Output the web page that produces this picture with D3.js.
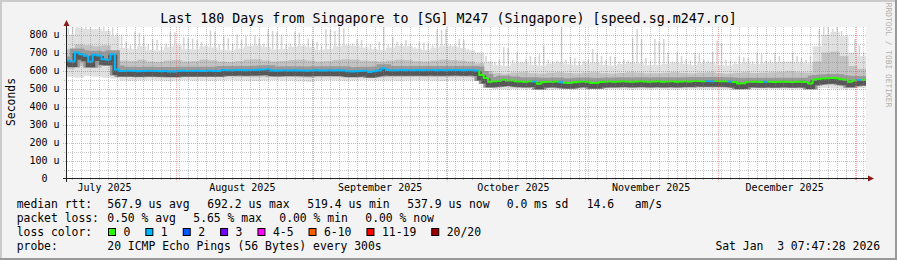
<!DOCTYPE html>
<html>
<head>
<meta charset="utf-8">
<script src="https://cdn.jsdelivr.net/npm/d3@7"></script>
<style>
  html, body { margin: 0; padding: 0; background: #f3f3f3; }
  svg { display: block; font-family: "DejaVu Sans Mono", monospace; }
  text { white-space: pre; }
</style>
</head>
<body>
<svg id="chart" width="897" height="260"></svg>
<script>
// graph window (180 days ending at the timestamp in the legend)
const startTime = new Date(Date.UTC(2025, 6, 7, 7, 47, 28));
const endTime = new Date(Date.UTC(2026, 0, 3, 7, 47, 28));
const DAY = 86400000;

const titleText = 'Last 180 Days from Singapore to [SG] M247 (Singapore) [speed.sg.m247.ro]';
const unitText = 'Seconds';
const watermarkText = 'RRDTOOL / TOBI OETIKER';
const monthLabels = ['July 2025', 'August 2025', 'September 2025', 'October 2025', 'November 2025', 'December 2025'];
const yTicks = [0, 100, 200, 300, 400, 500, 600, 700, 800];        // us
const yMinorTicks = [50, 150, 250, 350, 450, 550, 650, 750, 850];

// median rtt per day (us), day 0 = first day of the window
const medianRtt = [
  655, 650, 700, 690, 682, 648, 688, 684, 662, 660, 690, 605,
  597, 597, 598, 597, 596, 597, 598, 597, 597, 596, 597, 594,
  595, 597, 598, 597, 597, 598, 597, 597, 598, 597, 597, 603,
  602, 602, 603, 603, 602, 603, 603, 604, 606, 607, 600, 599,
  600, 601, 600, 601, 600, 600, 599, 600, 601, 600, 600, 601,
  600, 601, 600, 596, 595, 596, 597, 598, 591, 596, 600, 612,
  603, 602, 601, 603, 602, 603, 602, 603, 602, 603, 603, 602,
  603, 602, 603, 603, 603, 602, 603, 603, 600, 575,
  558, 537, 540, 541, 548, 545, 545, 540, 539, 538, 540, 539,
  527, 536, 538, 538, 539, 535, 532, 530, 535, 538, 539, 537,
  531, 530, 536, 538, 539, 538, 539, 540, 539, 538, 539, 540,
  539, 538, 539, 540, 538, 539, 540, 538, 539, 540, 539, 541,
  541, 540, 541, 540, 541, 540, 540, 539, 536, 528, 529, 537,
  537, 538, 536, 537, 538, 536, 537, 538, 537, 536, 537, 538,
  536, 528, 549, 553, 556, 557, 558, 557, 551, 549, 537, 545, 547, 547
];

// lost pings (of 20) per day
const lossPerDay = [
  1, 1, 1, 1, 1, 1, 1, 1, 1, 1, 1, 1, 1, 1, 1, 1, 1, 1, 1, 1,
  1, 1, 1, 1, 1, 1, 1, 1, 1, 1, 1, 1, 1, 1, 1, 1, 1, 1, 1, 1,
  1, 1, 1, 1, 1, 1, 1, 1, 1, 1, 1, 1, 1, 1, 1, 1, 1, 1, 1, 1,
  1, 1, 1, 1, 1, 1, 1, 1, 1, 1, 1, 1, 1, 1, 1, 1, 1, 1, 1, 1,
  1, 1, 1, 1, 1, 1, 1, 1, 1, 1, 1, 1, 1, 0, 0, 0, 0, 0, 0, 0,
  0, 0, 0, 0, 0, 1, 0, 0, 0, 0, 0, 1, 0, 0, 0, 0, 0, 0, 0, 0,
  0, 0, 0, 0, 0, 0, 0, 0, 0, 0, 0, 0, 0, 0, 0, 0, 0, 0, 0, 0,
  0, 0, 0, 0, 1, 1, 0, 0, 0, 1, 0, 0, 0, 0, 0, 0, 0, 1, 0, 0,
  0, 0, 0, 0, 0, 0, 0, 0, 0, 0, 0, 0, 0, 0, 0, 0, 0, 0, 1, 0
];

// highest single ping per day (us), the thin smoke spikes
const peakRtt = [
  835, 845, 850, 840, 850, 845, 830, 850, 845, 825, 840, 805,
  800, 760, 740, 815, 810, 790, 745, 775, 770, 735, 750, 815,
  812, 740, 786, 780, 775, 770, 760, 740, 822, 815, 745, 790,
  780, 750, 800, 770, 790, 740, 795, 780, 750, 830, 820, 815,
  800, 745, 750, 815, 810, 740, 775, 770, 760, 735, 830, 825,
  820, 843, 835, 740, 750, 775, 770, 735, 745, 730, 760, 850,
  740, 786, 760, 750, 770, 747, 730, 758, 755, 750, 740, 830,
  825, 830, 745, 740, 775, 770, 720, 710, 700, 690,
  680, 640, 650, 660, 730, 725, 660, 702, 650, 665, 681, 675,
  690, 737, 660, 650, 655, 843, 660, 675, 670, 650, 655, 660,
  720, 700, 681, 660, 680, 675, 650, 660, 655, 780, 830, 775,
  670, 655, 775, 760, 775, 700, 650, 702, 680, 663, 655, 700,
  690, 660, 655, 702, 766, 750, 660, 655, 650, 680, 675, 670,
  650, 700, 690, 655, 660, 700, 680, 655, 650, 700, 680, 670,
  660, 680, 700, 830, 848, 840, 830, 845, 820, 790, 700, 775, 740, 700
];

// smoke envelope per 2-day bucket (us)
const smokeMin = [
  565, 560, 570, 565, 560, 555,
  545, 543, 545, 548, 545, 542, 545, 546, 544, 545,
  543, 545, 548, 545, 544, 542, 545, 547, 545, 544,
  540, 538, 545, 546, 545, 543, 545, 548, 545, 544,
  545, 543, 545, 546, 545, 544, 542, 545, 546, 545,
  545,
  505, 497, 495, 497, 498, 496, 497, 495, 497, 498,
  496, 494, 497, 496, 498, 497, 495, 496, 497, 498,
  496, 495, 497, 498, 496, 497, 495, 496, 497, 498,
  496, 495, 497, 496, 498, 497, 500, 502, 503, 500,
  498, 500, 502
];
const smokeLow = [
  610, 625, 630, 615, 625, 590,
  566, 565, 567, 566, 565, 564, 566, 567, 565, 566,
  565, 566, 568, 566, 565, 563, 566, 568, 566, 565,
  562, 560, 566, 567, 566, 565, 566, 568, 566, 565,
  566, 565, 566, 567, 566, 565, 564, 566, 567, 566,
  560,
  525, 514, 513, 515, 516, 514, 515, 513, 515, 516,
  514, 512, 515, 514, 516, 515, 513, 514, 515, 516,
  514, 513, 515, 516, 514, 515, 513, 514, 515, 516,
  514, 513, 515, 514, 516, 515, 520, 525, 526, 522,
  516, 518, 520
];
const smokeHigh = [
  720, 745, 740, 735, 740, 700,
  655, 652, 660, 650, 648, 655, 658, 650, 652, 660,
  656, 650, 648, 652, 660, 662, 655, 650, 653, 658,
  660, 655, 650, 652, 658, 662, 660, 655, 652, 650,
  655, 660, 658, 652, 650, 655, 660, 658, 655, 650,
  640,
  595, 585, 582, 588, 590, 585, 583, 587, 590, 586,
  584, 588, 590, 585, 583, 586, 590, 588, 584, 585,
  587, 590, 586, 584, 588, 590, 585, 583, 587, 590,
  586, 588, 590, 592, 595, 590, 588, 650, 700, 705,
  680, 625, 610
];
const smokeMax = [
  800, 835, 830, 830, 820, 790,
  725, 720, 735, 715, 712, 730, 738, 720, 718, 735,
  728, 715, 712, 722, 735, 740, 730, 718, 720, 732,
  738, 730, 715, 720, 735, 740, 738, 728, 720, 715,
  728, 738, 735, 722, 715, 728, 738, 735, 725, 712,
  700,
  650, 630, 625, 640, 645, 632, 628, 638, 645, 635,
  630, 640, 645, 632, 628, 636, 645, 640, 630, 632,
  638, 645, 636, 630, 640, 645, 632, 628, 638, 645,
  636, 640, 645, 648, 650, 645, 640, 735, 800, 815,
  790, 700, 680
];

// legend content
const lossLabels = ['0', '1', '2', '3', '4-5', '6-10', '11-19', '20/20'];
const lossColors = ['#26ff00', '#00b8ff', '#0059ff', '#7200ff', '#ff00ff', '#ff5e00', '#ff0000', '#a10000'];
const rttStats = ['567.9 us avg', '692.2 us max', '519.4 us min', '537.9 us now', '0.0 ms sd', '14.6   am/s'];
const lossStats = ['0.50 % avg', '5.65 % max', '0.00 % min', '0.00 % now'];
const probeText = '20 ICMP Echo Pings (56 Bytes) every 300s';
const stampText = 'Sat Jan  3 07:47:28 2026';

const W = 897, H = 260;
const plot = { left: 66.5, right: 866, top: 27, bottom: 178.5 };

const svg = d3.select('#chart');

const x = d3.scaleUtc().domain([startTime, endTime]).range([66, 866]);
const y = d3.scaleLinear().domain([0, 800]).range([178.5, 34.5]);
const dayStart = i => new Date(startTime.getTime() + i * DAY);

// background with rrdtool style shaded frame
svg.append('rect').attr('width', W).attr('height', H).attr('fill', '#f3f3f3');
svg.append('path').attr('d', `M0,0H${W}V2H2V${H}H0Z`).attr('fill', '#cbcbcb');
svg.append('path').attr('d', `M${W},${H}H0V${H - 2}H${W - 2}V0H${W}Z`).attr('fill', '#999');

svg.append('rect')
  .attr('x', plot.left).attr('y', plot.top)
  .attr('width', plot.right - plot.left).attr('height', plot.bottom - plot.top)
  .attr('fill', '#fff');

svg.append('clipPath').attr('id', 'plotclip')
  .append('rect')
  .attr('x', plot.left).attr('y', plot.top)
  .attr('width', plot.right - plot.left).attr('height', plot.bottom - plot.top);

const g = svg.append('g').attr('clip-path', 'url(#plotclip)');

// smoke
const buckets = d3.range(smokeMin.length);
const bx0 = b => x(dayStart(b * 2));
const bx1 = b => x(dayStart(b * 2 + 2));

g.append('g').selectAll('rect').data(buckets).join('rect')
  .attr('x', bx0).attr('width', b => bx1(b) - bx0(b) + 0.3)
  .attr('y', b => y(smokeMax[b])).attr('height', b => y(smokeMin[b]) - y(smokeMax[b]))
  .attr('fill', '#e0e0e0');

g.append('g').selectAll('rect').data(medianRtt).join('rect')
  .attr('x', (d, i) => x(dayStart(i + 0.5)) - 0.75)
  .attr('width', 1.5)
  .attr('y', (d, i) => y(peakRtt[i]))
  .attr('height', (d, i) => Math.max(0, y(smokeMax[Math.floor(i / 2)]) - y(peakRtt[i])))
  .attr('fill', '#d4d4d4');

g.append('g').selectAll('rect').data(buckets).join('rect')
  .attr('x', bx0).attr('width', b => bx1(b) - bx0(b) + 0.3)
  .attr('y', b => y(smokeHigh[b])).attr('height', b => y(smokeLow[b]) - y(smokeHigh[b]))
  .attr('fill', '#c2c2c2');

// dense core around the median
const medianStep = d3.line()
  .x(d => x(d[0]))
  .y(d => y(d[1]))
  .curve(d3.curveStepAfter);
const stepPoints = medianRtt.map((v, i) => [dayStart(i), v]).concat([[dayStart(medianRtt.length), medianRtt[medianRtt.length - 1]]]);

g.append('path').datum(stepPoints).attr('d', medianStep)
  .attr('transform', 'translate(0,1)')
  .attr('fill', 'none').attr('stroke', '#9a9a9a').attr('stroke-width', 10);
g.append('path').datum(stepPoints).attr('d', medianStep)
  .attr('transform', 'translate(0,3)')
  .attr('fill', 'none').attr('stroke', '#575757').attr('stroke-width', 5);

// median line coloured by loss
g.append('g').selectAll('path').data(medianRtt).join('path')
  .attr('d', (v, i) => {
    const prev = i > 0 ? medianRtt[i - 1] : v;
    return `M${x(dayStart(i))},${y(prev)}V${y(v)}H${x(dayStart(i + 1))}`;
  })
  .attr('fill', 'none')
  .attr('stroke', (v, i) => lossColors[lossPerDay[i]])
  .attr('stroke-width', 2);

// grid on top
const grid = svg.append('g');
const minorStart = new Date(Date.UTC(2025, 6, 8, 18));
const minorTimes = d3.range(0, 90).map(k => new Date(minorStart.getTime() + k * 2 * DAY)).filter(t => t < endTime);
const monthStarts = d3.utcMonth.range(startTime, endTime);

grid.selectAll('.hminor').data(yMinorTicks.filter(v => y(v) > plot.top)).join('line')
  .attr('x1', 64).attr('x2', plot.right)
  .attr('y1', v => Math.round(y(v)) + 0.5).attr('y2', v => Math.round(y(v)) + 0.5)
  .attr('stroke', 'rgba(130,130,130,0.45)').attr('stroke-dasharray', '1,1');

grid.selectAll('.vminor').data(minorTimes).join('line')
  .attr('x1', t => Math.round(x(t)) + 0.5).attr('x2', t => Math.round(x(t)) + 0.5)
  .attr('y1', plot.top).attr('y2', plot.bottom + 2)
  .attr('stroke', 'rgba(130,130,130,0.45)').attr('stroke-dasharray', '1,1');

grid.selectAll('.hmajor').data(yTicks.slice(1)).join('line')
  .attr('x1', 63).attr('x2', plot.right)
  .attr('y1', v => Math.round(y(v)) + 0.5).attr('y2', v => Math.round(y(v)) + 0.5)
  .attr('stroke', 'rgba(235,80,80,0.5)').attr('stroke-dasharray', '1,1');

grid.selectAll('.vmajor').data(monthStarts).join('line')
  .attr('x1', t => Math.round(x(t)) + 0.5).attr('x2', t => Math.round(x(t)) + 0.5)
  .attr('y1', plot.top).attr('y2', plot.bottom + 3)
  .attr('stroke', 'rgba(235,80,80,0.5)').attr('stroke-dasharray', '1,1');

// axes with arrows
const axisColor = '#222';
svg.append('line').attr('x1', 63).attr('x2', 869).attr('y1', 178.5).attr('y2', 178.5).attr('stroke', axisColor);
svg.append('line').attr('x1', 66.5).attr('x2', 66.5).attr('y1', 182).attr('y2', 24).attr('stroke', axisColor);
svg.append('path').attr('d', 'M63.5,26L66.5,20L69.5,26Z').attr('fill', '#8b1a1a');
svg.append('path').attr('d', 'M868,175.5L874,178.5L868,181.5Z').attr('fill', '#8b1a1a');

// y labels
svg.append('g').selectAll('text').data(yTicks).join('text')
  .attr('x', 59.5).attr('y', v => y(v) + 3.5)
  .attr('text-anchor', 'end').attr('font-size', '10px').attr('fill', '#000')
  .text(v => v === 0 ? '0  ' : v + ' u');

// month labels centred in the middle of each month
const labelTimes = d3.utcMonth.range(d3.utcMonth.floor(startTime), endTime).map(m => d3.utcDay.offset(m, 15));
svg.append('g').selectAll('text').data(labelTimes).join('text')
  .attr('x', t => x(t)).attr('y', 191)
  .attr('text-anchor', 'middle').attr('font-size', '10px').attr('fill', '#000')
  .text((t, i) => monthLabels[i]);

// title, unit, watermark
svg.append('text').attr('x', W / 2).attr('y', 23).attr('text-anchor', 'middle')
  .attr('font-size', '13.3px').attr('fill', '#000').text(titleText);
svg.append('text').attr('transform', 'translate(14.5,102) rotate(-90)').attr('text-anchor', 'middle')
  .attr('font-size', '11.4px').attr('fill', '#000').text(unitText);
svg.append('text').attr('transform', 'translate(886,55) rotate(90)').attr('text-anchor', 'middle')
  .attr('font-size', '7.9px').attr('fill', '#b0b0b0').text(watermarkText);

// legend
const legend = svg.append('g').attr('font-size', '11.4px').attr('fill', '#000');
const row = [208.4, 222.4, 236.4, 250.4];
const valueX = 107.3;
legend.append('text').attr('x', 16.7).attr('y', row[0]).text('median rtt:');
rttStats.forEach((s, i) => {
  const cols = [107.3, 207.3, 307.3, 407.3, 506.7, 586.7];
  legend.append('text').attr('x', cols[i]).attr('y', row[0]).text(s);
});
legend.append('text').attr('x', 16.7).attr('y', row[1]).text('packet loss:');
lossStats.forEach((s, i) => {
  legend.append('text').attr('x', valueX + i * 86).attr('y', row[1]).text(s);
});
legend.append('text').attr('x', 16.7).attr('y', row[2]).text('loss color:');
let cx = 108.5;
lossLabels.forEach((s, i) => {
  legend.append('rect').attr('x', cx).attr('y', 228.5).attr('width', 7).attr('height', 7)
    .attr('fill', lossColors[i]).attr('stroke', '#000').attr('stroke-width', 1);
  const t = legend.append('text').attr('x', cx + 15).attr('y', row[2]).text(s);
  cx = cx + 15 + t.node().getComputedTextLength() + 15.5;
});
legend.append('text').attr('x', 16.7).attr('y', row[3]).text('probe:');
legend.append('text').attr('x', valueX).attr('y', row[3]).text(probeText);
legend.append('text').attr('x', 880).attr('y', row[3]).attr('text-anchor', 'end').text(stampText);
</script>
</body>
</html>
